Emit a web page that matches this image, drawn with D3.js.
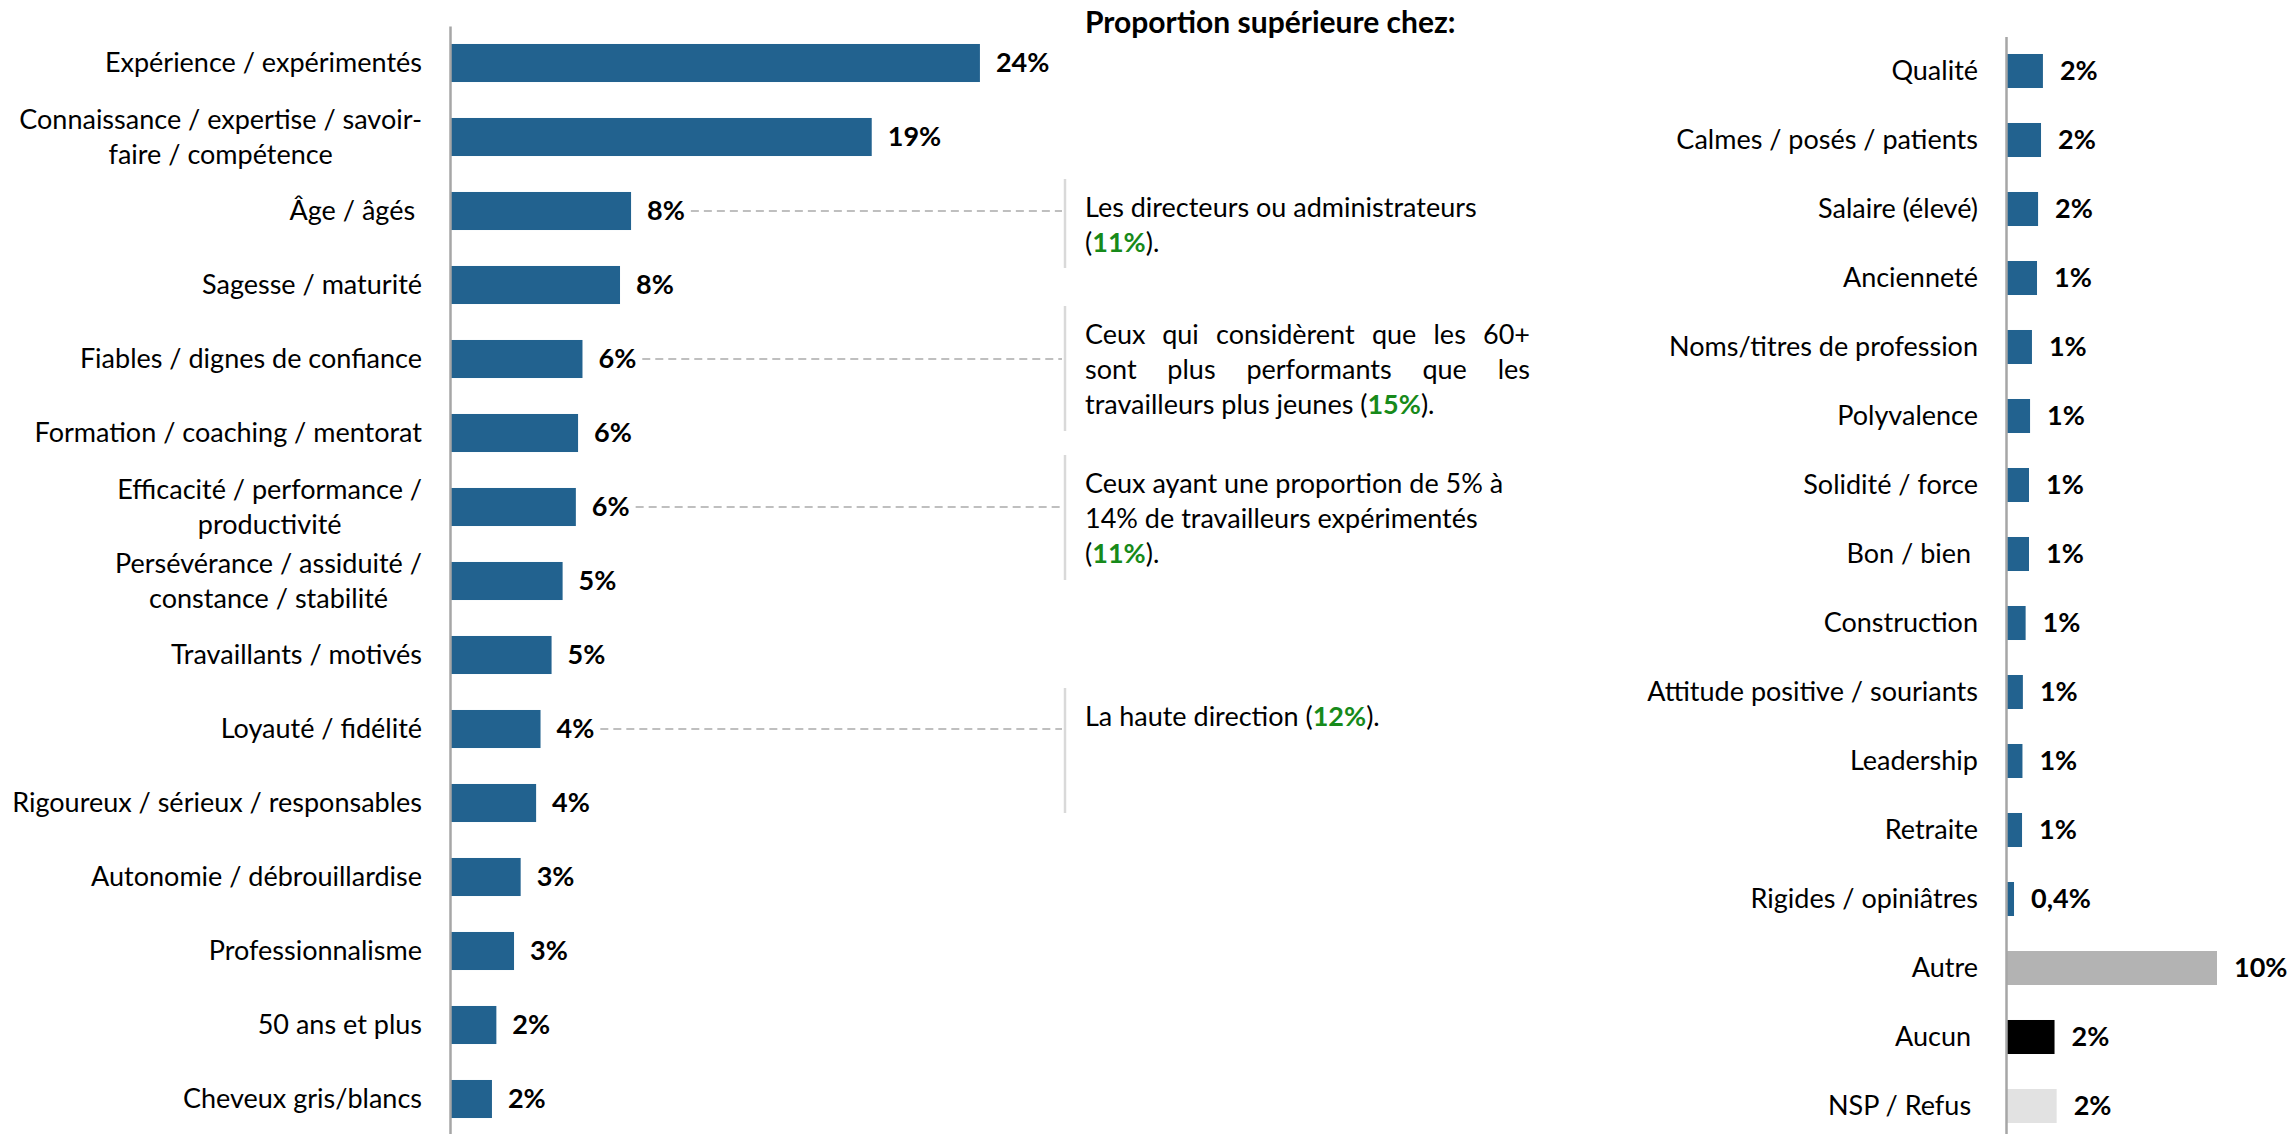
<!DOCTYPE html>
<html>
<head>
<meta charset="utf-8">
<script src="https://cdn.jsdelivr.net/npm/d3@7"></script>
<style>
  html, body { margin: 0; padding: 0; background: #ffffff; }
  svg text { font-family: Lato, "Open Sans", sans-serif; white-space: pre; }
</style>
</head>
<body>
<svg id="chart" width="2290" height="1134"></svg>
<script>
// Main list of attributes (percent of respondents)
const leftCategories = [
  "Expérience / expérimentés",
  "Connaissance / expertise / savoir-\nfaire / compétence",
  "Âge / âgés ",
  "Sagesse / maturité",
  "Fiables / dignes de confiance",
  "Formation / coaching / mentorat",
  "Efficacité / performance /\nproductivité",
  "Persévérance / assiduité /\nconstance / stabilité",
  "Travaillants / motivés",
  "Loyauté / fidélité",
  "Rigoureux / sérieux / responsables",
  "Autonomie / débrouillardise",
  "Professionnalisme",
  "50 ans et plus",
  "Cheveux gris/blancs"
];
const leftValues = [24.0, 19.1, 8.2, 7.7, 6.0, 5.8, 5.7, 5.1, 4.6, 4.1, 3.9, 3.2, 2.9, 2.1, 1.9];

// Less frequent mentions plus other / none / don't know
const rightCategories = [
  "Qualité",
  "Calmes / posés / patients",
  "Salaire (élevé)",
  "Ancienneté",
  "Noms/titres de profession",
  "Polyvalence",
  "Solidité / force",
  "Bon / bien ",
  "Construction",
  "Attitude positive / souriants",
  "Leadership",
  "Retraite",
  "Rigides / opiniâtres",
  "Autre",
  "Aucun ",
  "NSP / Refus "
];
const rightValues = [1.75, 1.66, 1.52, 1.47, 1.23, 1.14, 1.09, 1.09, 0.93, 0.80, 0.78, 0.76, 0.38, 10.0, 2.3, 2.4];
const rightGroups = [
  "mention", "mention", "mention", "mention", "mention", "mention", "mention", "mention",
  "mention", "mention", "mention", "mention", "mention", "autre", "aucun", "nsp"
];

// Sub-group call-outs; **x** marks the highlighted figure
const noteTitle = "Proportion supérieure chez:";
const noteTargets = [2, 4, 6, 9];
const noteLines = [
  ["Les directeurs ou administrateurs", "(**11%**)."],
  ["Ceux qui considèrent que les 60+", "sont plus performants que les", "travailleurs plus jeunes (**15%**)."],
  ["Ceux ayant une proportion de 5% à", "14% de travailleurs expérimentés", "(**11%**)."],
  ["La haute direction (**12%**)."]
];
const noteJustified = [0, 2, 0, 0];

// ---- styling / layout ----
const FONT = 27;
const TITLE_FONT = 30;
const LINE_H = 35;
const groupColor = { mention: "#22628f", autre: "#b3b3b3", aucun: "#000000", nsp: "#e2e2e2" };
const BLUE = "#22628f";
const AXIS_GREY = "#a6a6a6";
const GREEN = "#178a1a";

const svg = d3.select("#chart");
const pctFmt = d3.formatLocale({ decimal: ",", thousands: " ", grouping: [3], currency: ["", ""] });
const fmtDec = pctFmt.format(".1f");
const label = v => (v < 0.5 ? fmtDec(v) : String(Math.round(v))) + "%";

function wrapAxisLabels(axisG, padding) {
  axisG.selectAll(".tick text").each(function (d) {
    const t = d3.select(this);
    const lines = d.split("\n");
    t.text(null).attr("dy", null).attr("x", null);
    const spans = lines.map((ln, i) =>
      t.append("tspan")
        .text(ln)
        .attr("y", (i - (lines.length - 1) / 2) * LINE_H)
        .attr("dy", "0.35em"));
    if (lines.length > 1) {
      const w = d3.max(spans, s => s.node().getComputedTextLength());
      t.attr("text-anchor", "middle");
      spans.forEach(s => s.attr("x", -padding - w / 2));
    } else {
      spans[0].attr("x", -padding);
    }
  });
}

function styleAxis(g) {
  g.select(".domain").attr("stroke", AXIS_GREY).attr("stroke-width", 2.5);
  g.selectAll(".tick line").remove();
  g.selectAll(".tick text")
    .attr("font-size", FONT)
    .attr("fill", "#000")
    .style("font-family", "Lato, 'Open Sans', sans-serif");
}

// ---------- left chart ----------
const xL = d3.scaleLinear().domain([0, 25]).range([450, 450 + 22.08 * 25]);
const yL = d3.scaleBand().domain(leftCategories).range([26, 1136])
  .paddingInner(0.486).paddingOuter(0.243);

const gL = svg.append("g");
gL.selectAll("rect.bar")
  .data(leftCategories)
  .join("rect")
  .attr("class", "bar")
  .attr("x", xL(0))
  .attr("y", d => yL(d))
  .attr("width", (d, i) => xL(leftValues[i]) - xL(0))
  .attr("height", yL.bandwidth())
  .attr("fill", BLUE);

const leftValueLabels = gL.selectAll("text.val")
  .data(leftCategories)
  .join("text")
  .attr("class", "val")
  .attr("x", (d, i) => xL(leftValues[i]) + 16)
  .attr("y", d => yL(d) + yL.bandwidth() / 2)
  .attr("dy", "0.35em")
  .attr("font-size", FONT)
  .attr("font-weight", 700)
  .text((d, i) => label(leftValues[i]));

const axL = svg.append("g")
  .attr("transform", `translate(${xL(0)},0)`)
  .call(d3.axisLeft(yL).tickSize(0).tickSizeOuter(0).tickPadding(28));
styleAxis(axL);
wrapAxisLabels(axL, 28);

// ---------- right chart ----------
const xR = d3.scaleLinear().domain([0, 10]).range([2006, 2006 + 21.1 * 10]);
const yR = d3.scaleBand().domain(rightCategories).range([36.5, 1140.5])
  .paddingInner(0.507).paddingOuter(0.2535);

const gR = svg.append("g");
gR.selectAll("rect.bar")
  .data(rightCategories)
  .join("rect")
  .attr("class", "bar")
  .attr("x", xR(0))
  .attr("y", d => yR(d))
  .attr("width", (d, i) => xR(rightValues[i]) - xR(0))
  .attr("height", yR.bandwidth())
  .attr("fill", (d, i) => groupColor[rightGroups[i]]);

gR.selectAll("text.val")
  .data(rightCategories)
  .join("text")
  .attr("class", "val")
  .attr("x", (d, i) => xR(rightValues[i]) + 17)
  .attr("y", d => yR(d) + yR.bandwidth() / 2)
  .attr("dy", "0.35em")
  .attr("font-size", FONT)
  .attr("font-weight", 700)
  .text((d, i) => label(rightValues[i]));

const axR = svg.append("g")
  .attr("transform", `translate(${xR(0)},0)`)
  .call(d3.axisLeft(yR).tickSize(0).tickSizeOuter(0).tickPadding(28));
styleAxis(axR);
wrapAxisLabels(axR, 28);

// ---------- call-outs ----------
const NOTE_X = 1085, NOTE_W = 445, RULE_X = 1065;
const noteTop = [179, 306, 455, 688];
const noteHeight = [89, 125, 125, 125];

svg.append("text")
  .attr("x", NOTE_X).attr("y", 33)
  .attr("font-size", TITLE_FONT).attr("font-weight", 700)
  .text(noteTitle);

const gN = svg.append("g");
noteLines.forEach((lines, k) => {
  const top = noteTop[k];
  gN.append("line")
    .attr("x1", RULE_X).attr("x2", RULE_X)
    .attr("y1", top).attr("y2", top + noteHeight[k])
    .attr("stroke", "#d9d9d9").attr("stroke-width", 2.5);

  lines.forEach((ln, li) => {
    const baseY = top + 38 + li * LINE_H;
    const t = gN.append("text").attr("y", baseY).attr("font-size", FONT);
    if (li < noteJustified[k]) {
      // spread words across the full column width
      const words = ln.split(" ");
      const spans = words.map(w => t.append("tspan").text(w));
      const widths = spans.map(s => s.node().getComputedTextLength());
      const gap = (NOTE_W - d3.sum(widths)) / (words.length - 1);
      let cx = NOTE_X;
      spans.forEach((s, i) => { s.attr("x", cx); cx += widths[i] + gap; });
    } else {
      t.attr("x", NOTE_X);
      ln.split(/(\*\*[^*]+\*\*)/).filter(s => s.length).forEach(seg => {
        const bold = seg.startsWith("**");
        t.append("tspan")
          .text(bold ? seg.slice(2, -2) : seg)
          .attr("font-weight", bold ? 700 : 400)
          .attr("fill", bold ? GREEN : "#000");
      });
    }
  });

  // dashed leader from the bar's value label to the call-out rule
  const idx = noteTargets[k];
  const lblNode = leftValueLabels.filter((d, i) => i === idx).node();
  const x0 = +lblNode.getAttribute("x") + lblNode.getComputedTextLength() + 6;
  const yMid = yL(leftCategories[idx]) + yL.bandwidth() / 2;
  gN.append("line")
    .attr("x1", x0).attr("x2", RULE_X - 3)
    .attr("y1", yMid).attr("y2", yMid)
    .attr("stroke", "#bfbfbf").attr("stroke-width", 2)
    .attr("stroke-dasharray", "8,5");
});
</script>
</body>
</html>
